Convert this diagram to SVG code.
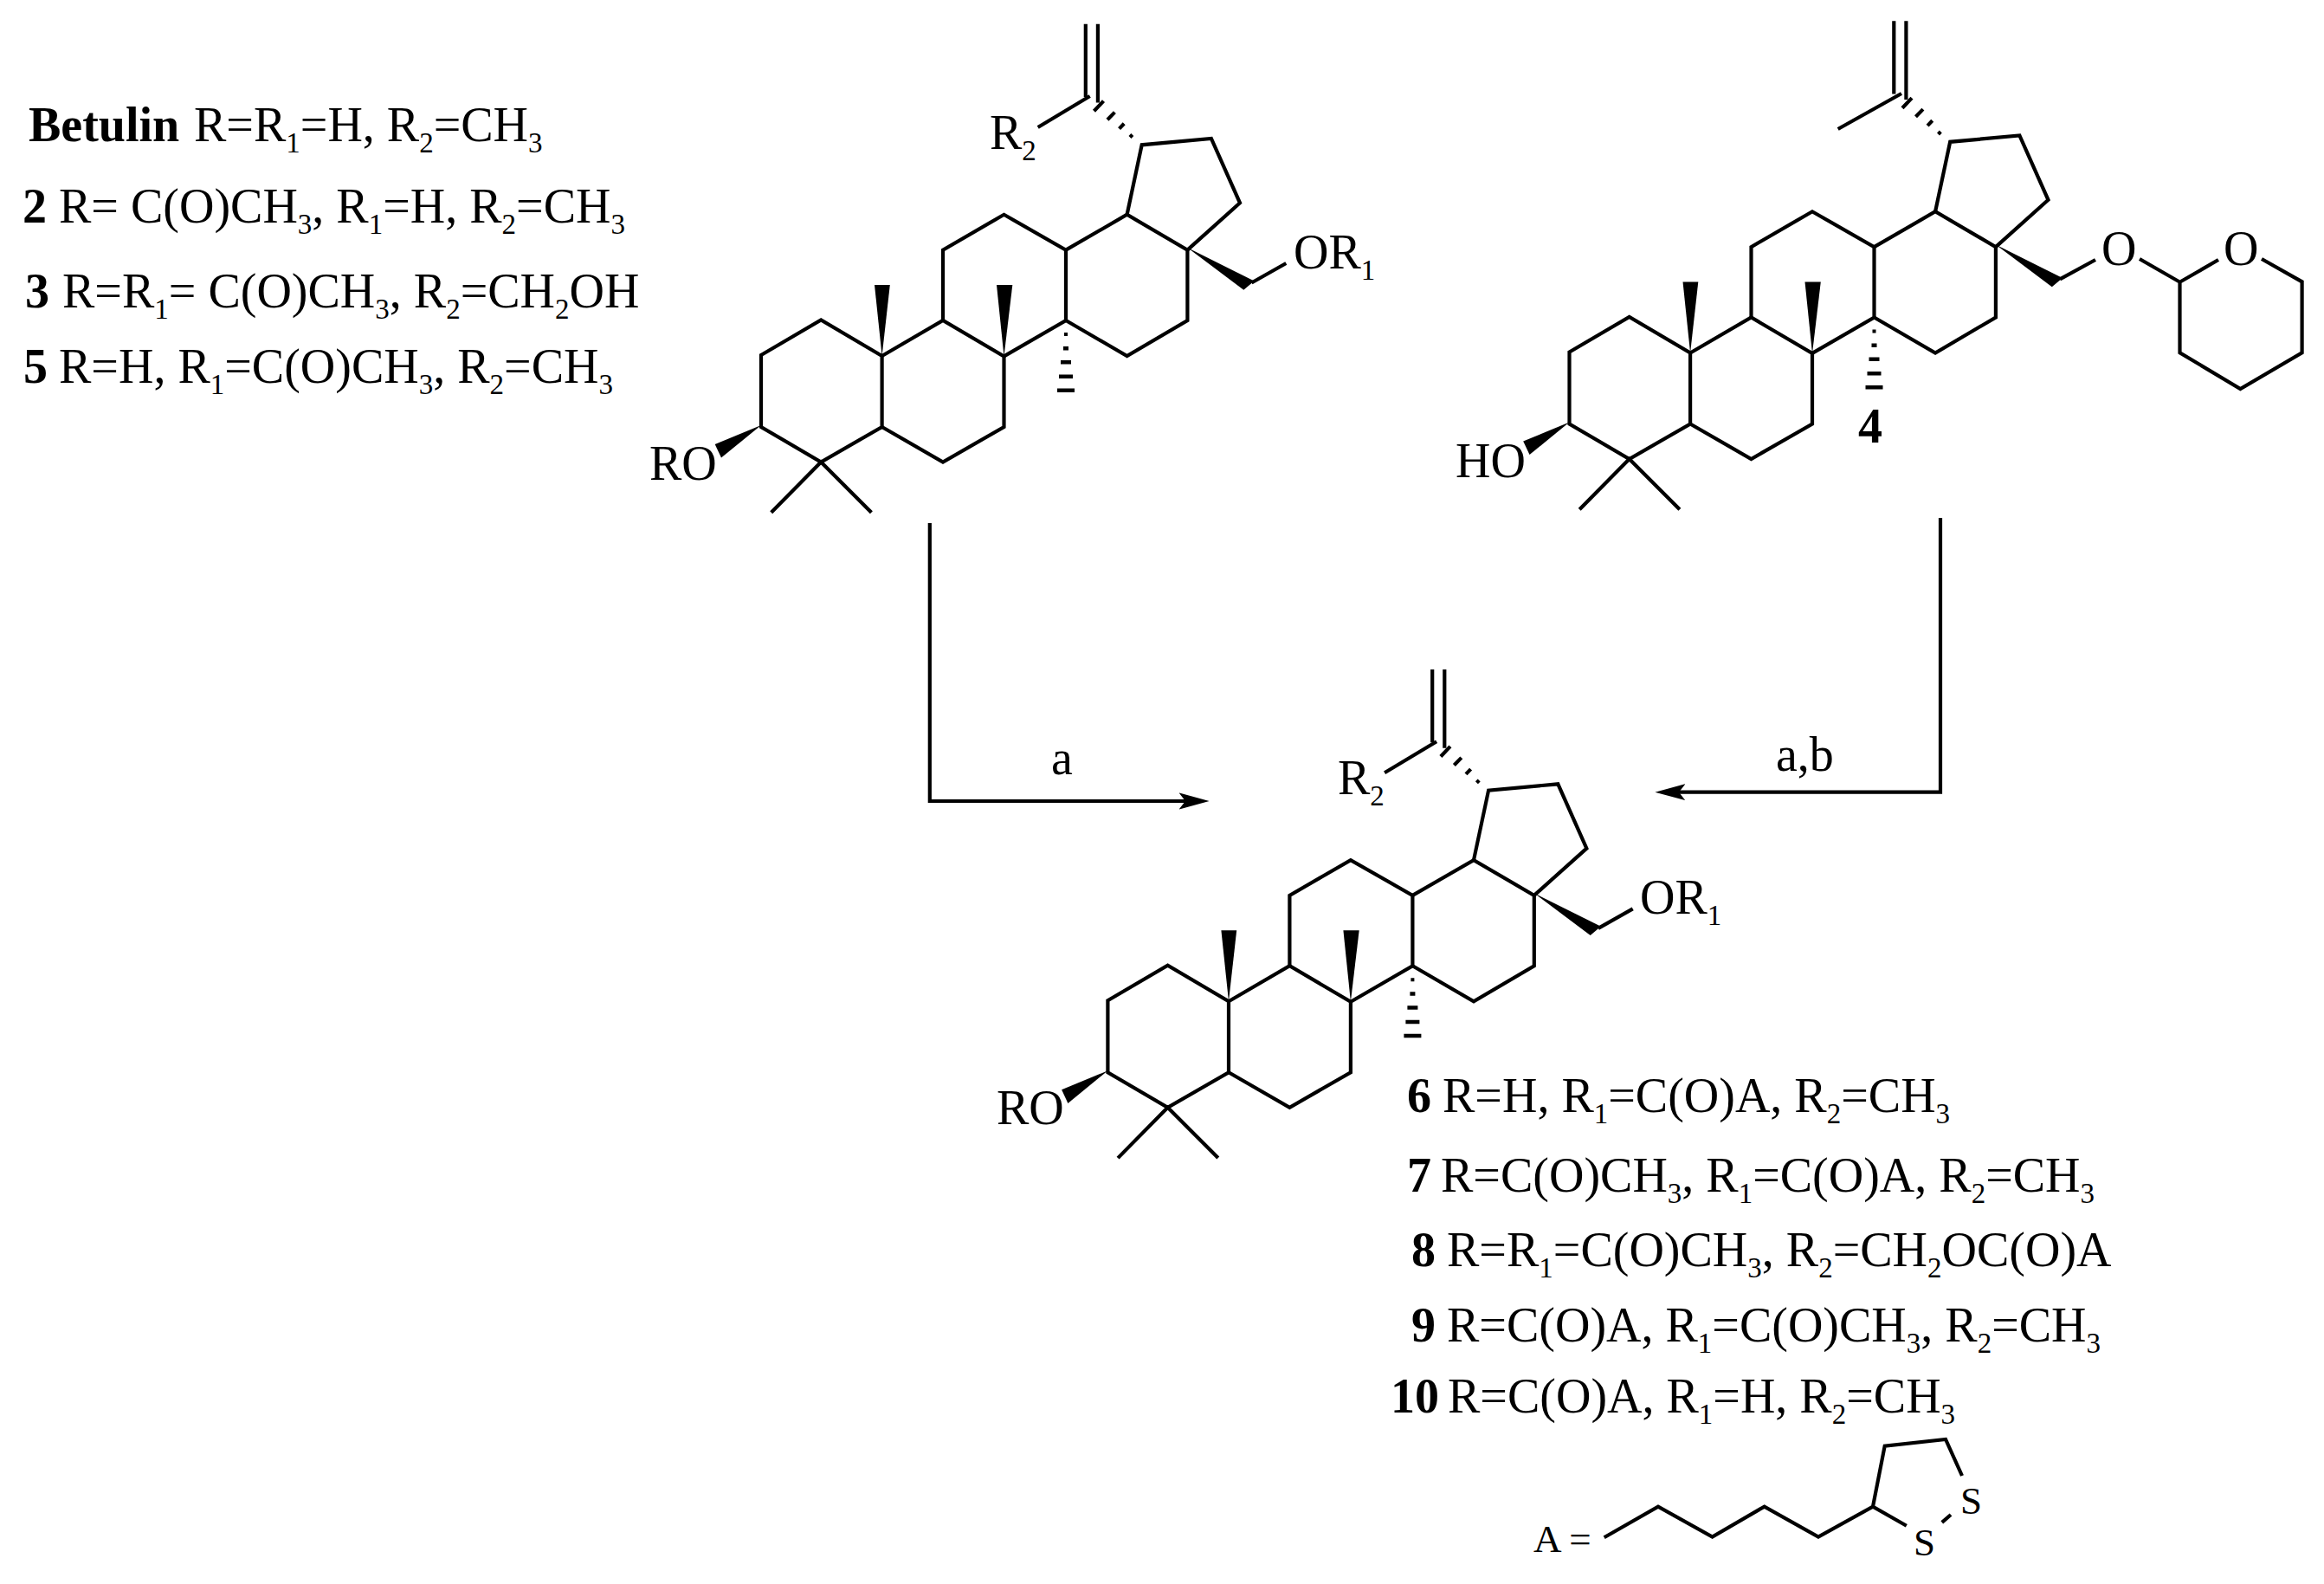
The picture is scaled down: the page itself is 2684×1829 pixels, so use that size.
<svg xmlns="http://www.w3.org/2000/svg" xmlns:xlink="http://www.w3.org/1999/xlink" width="2684" height="1829" viewBox="0 0 2684 1829">
<style>
text{font-family:"Liberation Serif","Times New Roman",serif;font-size:56px;fill:#000}
.b{font-weight:bold}
.s{font-size:33px}
.m{font-size:45px}
.bond{fill:none;stroke:#000;stroke-width:4.2;stroke-linejoin:miter}
.w{fill:#000;stroke:none}
.conn{fill:none;stroke:#000;stroke-width:4.2;marker-end:url(#head)}
</style>
<defs>
<marker id="head" markerUnits="userSpaceOnUse" markerWidth="40" markerHeight="24" viewBox="0 -12 40 24" refX="7.4" refY="0" orient="auto"><path d="M0,-9.5L35,0L0,9.5L7.4,0Z" fill="#000"/></marker>
<g id="skeleton">
<path class="bond" d="M879,410L948.2,369.5L1018.6,411L1018.6,493L948.2,533.5L879,493Z"/>
<path class="bond" d="M1018.6,411L1089,370L1159.5,411.4L1159.5,493L1089,533.5L1018.6,493"/>
<path class="bond" d="M1089,370L1089,288.6L1159.5,247.8L1231,288.6L1231,370L1159.5,411.4"/>
<path class="bond" d="M1231,288.6L1301.6,247.8L1371.4,288.6L1371.4,370L1301.6,411L1231,370"/>
<path class="bond" d="M1301.6,247.8L1318.7,167.3L1398.9,160L1432,234.3L1371.4,288.6"/>
<path class="bond" d="M890.7,591.8L948.2,533.5L1006.4,591.8"/>
<path class="bond" d="M1253.8,27.8V112M1267.9,27.8V118.4"/>
<path class="w" d="M879,491L825.7,513L833,528.6Z"/>
<path class="w" d="M1018.6,411L1010,329L1027.8,329Z"/>
<path class="w" d="M1159.5,411.4L1151,329L1169.3,329Z"/>
<path class="w" d="M1371.4,286L1448.5,324.5L1436.3,334.7Z"/>
<path class="w" d="M1229,384h4v4h-4zM1228,400h6v4.500h-6zM1225,416h12v4.500h-12zM1223,432.500h16v4.500h-16zM1221,448.500h20v4.500h-20z"/>
<path class="bond" d="M1263.500,128.200L1274.500,116.600M1279,138.200L1287.400,129.600M1292.600,148.600L1298.200,142.800M1305,158.400L1307.800,155.600"/>
</g>
</defs>
<rect width="2684" height="1829" fill="#fff"/>
<g id="legend-top">
<text y="163"><tspan class="b" x="33">Betulin</tspan><tspan x="224">R=R</tspan><tspan class="s" dy="13">1</tspan><tspan dy="-13">=H, R</tspan><tspan class="s" dy="13">2</tspan><tspan dy="-13">=CH</tspan><tspan class="s" dy="13">3</tspan></text>
<text y="257"><tspan class="b" x="26">2</tspan><tspan x="68">R= C(O)CH</tspan><tspan class="s" dy="13">3</tspan><tspan dy="-13">, R</tspan><tspan class="s" dy="13">1</tspan><tspan dy="-13">=H, R</tspan><tspan class="s" dy="13">2</tspan><tspan dy="-13">=CH</tspan><tspan class="s" dy="13">3</tspan></text>
<text y="355"><tspan class="b" x="29">3</tspan><tspan x="72">R=R</tspan><tspan class="s" dy="13">1</tspan><tspan dy="-13">= C(O)CH</tspan><tspan class="s" dy="13">3</tspan><tspan dy="-13">, R</tspan><tspan class="s" dy="13">2</tspan><tspan dy="-13">=CH</tspan><tspan class="s" dy="13">2</tspan><tspan dy="-13">OH</tspan></text>
<text y="442"><tspan class="b" x="27">5</tspan><tspan x="68">R=H, R</tspan><tspan class="s" dy="13">1</tspan><tspan dy="-13">=C(O)CH</tspan><tspan class="s" dy="13">3</tspan><tspan dy="-13">, R</tspan><tspan class="s" dy="13">2</tspan><tspan dy="-13">=CH</tspan><tspan class="s" dy="13">3</tspan></text>
</g>
<g id="mol-betulin">
<use href="#skeleton" xlink:href="#skeleton"/>
<path class="bond" d="M1258.700,111L1198.700,147M1445.500,326.500L1485.300,304"/>
<text x="750" y="554">RO</text>
<text x="1143" y="172">R<tspan class="s" dy="13">2</tspan></text>
<text x="1494" y="310">OR<tspan class="s" dy="13">1</tspan></text>
</g>
<g id="mol-4">
<use href="#skeleton" xlink:href="#skeleton" transform="translate(933.5,-3.5)"/>
<path class="bond" d="M2196,108L2122.700,149M2379,322.400L2420,300M2471,299L2517.500,325.700L2562,300M2612,299L2658.600,325.300V407.300L2587.400,449L2517.500,407.300V325.700"/>
<text x="1681" y="551">HO</text>
<text x="2427" y="306">O</text>
<text x="2568" y="306">O</text>
<text class="b" x="2146" y="511">4</text>
</g>
<g id="mol-product">
<use href="#skeleton" xlink:href="#skeleton" transform="translate(400.4,745.3)"/>
<path class="bond" d="M1659.100,856.300L1599.100,892.300M1845.900,1071.800L1885.700,1049.300"/>
<text x="1151" y="1298">RO</text>
<text x="1545" y="917">R<tspan class="s" dy="13">2</tspan></text>
<text x="1894" y="1055">OR<tspan class="s" dy="13">1</tspan></text>
</g>
<g id="legend-bottom">
<text y="1284"><tspan class="b" x="1625">6</tspan><tspan x="1666">R=H, R</tspan><tspan class="s" dy="13">1</tspan><tspan dy="-13">=C(O)A, R</tspan><tspan class="s" dy="13">2</tspan><tspan dy="-13">=CH</tspan><tspan class="s" dy="13">3</tspan></text>
<text y="1376"><tspan class="b" x="1625">7</tspan><tspan x="1664">R=C(O)CH</tspan><tspan class="s" dy="13">3</tspan><tspan dy="-13">, R</tspan><tspan class="s" dy="13">1</tspan><tspan dy="-13">=C(O)A, R</tspan><tspan class="s" dy="13">2</tspan><tspan dy="-13">=CH</tspan><tspan class="s" dy="13">3</tspan></text>
<text y="1462"><tspan class="b" x="1630">8</tspan><tspan x="1671">R=R</tspan><tspan class="s" dy="13">1</tspan><tspan dy="-13">=C(O)CH</tspan><tspan class="s" dy="13">3</tspan><tspan dy="-13">, R</tspan><tspan class="s" dy="13">2</tspan><tspan dy="-13">=CH</tspan><tspan class="s" dy="13">2</tspan><tspan dy="-13">OC(O)A</tspan></text>
<text y="1549"><tspan class="b" x="1630">9</tspan><tspan x="1671">R=C(O)A, R</tspan><tspan class="s" dy="13">1</tspan><tspan dy="-13">=C(O)CH</tspan><tspan class="s" dy="13">3</tspan><tspan dy="-13">, R</tspan><tspan class="s" dy="13">2</tspan><tspan dy="-13">=CH</tspan><tspan class="s" dy="13">3</tspan></text>
<text y="1631"><tspan class="b" x="1606">10</tspan><tspan x="1672">R=C(O)A, R</tspan><tspan class="s" dy="13">1</tspan><tspan dy="-13">=H, R</tspan><tspan class="s" dy="13">2</tspan><tspan dy="-13">=CH</tspan><tspan class="s" dy="13">3</tspan></text>
</g>
<g id="substituent-A">
<text class="m" x="1771" y="1792">A =</text>
<path class="bond" d="M1852.700,1775.300L1915,1739.600L1977.600,1774.600L2037.700,1739.600L2100,1774.600L2163,1739.600L2201.800,1761.700M2163,1739.600L2176.700,1669.700L2247,1662L2266,1704M2242.800,1757.900L2253,1749"/>
<text class="m" x="2210" y="1796">S</text>
<text class="m" x="2264" y="1748">S</text>
</g>
<g id="connectors">
<path class="conn" d="M1073.800,604V925H1369"/>
<path class="conn" d="M2241,598V914.700H1939"/>
</g>
<g id="conn-labels">
<text x="1214" y="894">a</text>
<text x="2051" y="890">a,b</text>
</g>
</svg>
